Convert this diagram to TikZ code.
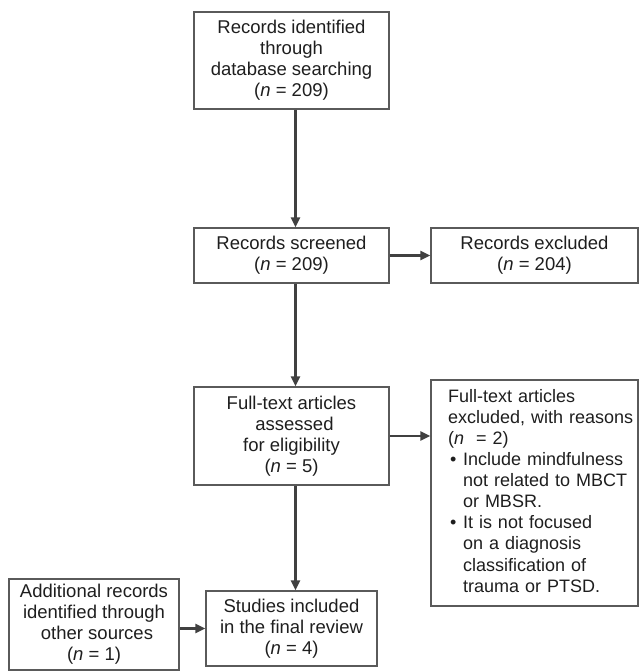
\documentclass[tikz,border=0pt]{standalone}
\usepackage{fontspec}
\setmainfont{Liberation Sans}
\usetikzlibrary{arrows.meta, positioning}
\definecolor{boxline}{HTML}{5A5A5A}
\definecolor{arrline}{HTML}{404040}
\definecolor{txt}{HTML}{1E1E1E}
\hfuzz=30pt

\begin{document}
\begin{tikzpicture}[
                x=1pt, y=-1pt,
                box/.style={
                    draw=boxline,
                    line width=1.2pt,
                    inner sep=0pt,
                    align=center,
                    text=txt
                },
                arr/.style={
                    -{Triangle[length=10pt,width=9pt]},
                    draw=arrline,
                    fill=arrline,
                    line width=2.1pt
                },
                every node/.style={font=\fontsize{18.5}{21}\selectfont}
            ]

                \useasboundingbox (0,0) rectangle (639,671);

                \node[box, minimum width=195pt, minimum height=97pt] (ident) at (291.5,60.5)
                    {Records identified\\through\\database searching\\(\textit{n} = 209)};
                \node[box, minimum width=195pt, minimum height=55pt] (screen) at (291.5,255.5)
                    {Records screened\\(\textit{n} = 209)};
                \node[box, minimum width=207pt, minimum height=55pt] (excl) at (534.5,255.5)
                    {Records excluded\\(\textit{n} = 204)};
                \node[box, minimum width=195pt, minimum height=98pt] (full) at (291.5,436)
                    {Full-text articles\\\hspace*{6pt}assessed\\for eligibility\\(\textit{n} = 5)};
                \node[box, minimum width=207pt, minimum height=226pt, align=left,
                      text width=173pt, inner xsep=16.5pt, inner ysep=0pt,
                      font=\fontsize{18}{21.1}\selectfont] (reasons) at (534.5,493)
                    {\begin{tabular}{@{}l@{}}
                     Full-text articles\\
                     excluded, with reasons\\
                     (\textit{n}\ \ = 2)\\
                     \hspace*{2pt}\makebox[13pt][l]{\textbullet}Include mindfulness\\
                     \hspace*{15pt}not related to MBCT\\
                     \hspace*{15pt}or MBSR.\\
                     \hspace*{2pt}\makebox[13pt][l]{\textbullet}It is not focused\\
                     \hspace*{15pt}on a diagnosis\\
                     \hspace*{15pt}classification of\\
                     \hspace*{15pt}trauma or PTSD.
                     \end{tabular}};
                \node[box, minimum width=171pt, minimum height=75pt] (incl) at (291.5,628.5)
                    {Studies included\\in the final review\\(\textit{n} = 4)};
                \node[box, minimum width=170pt, minimum height=91pt] (add) at (94,624.5)
                    {Additional records\\identified through\\\hspace*{6pt}other sources\\(\textit{n} = 1)};

                \draw[arr] ([xshift=4pt]ident.south) -- ([xshift=4pt]screen.north);
                \draw[arr] (screen) -- (excl);
                \draw[arr] ([xshift=4pt]screen.south) -- ([xshift=4pt]full.north);
                \draw[arr] (full.east) -- (full.east -| reasons.west);
                \draw[arr] ([xshift=4pt]full.south) -- ([xshift=4pt]incl.north);
                \draw[arr] (add.east |- incl.west) -- (incl.west);

            \end{tikzpicture}
\end{document}
